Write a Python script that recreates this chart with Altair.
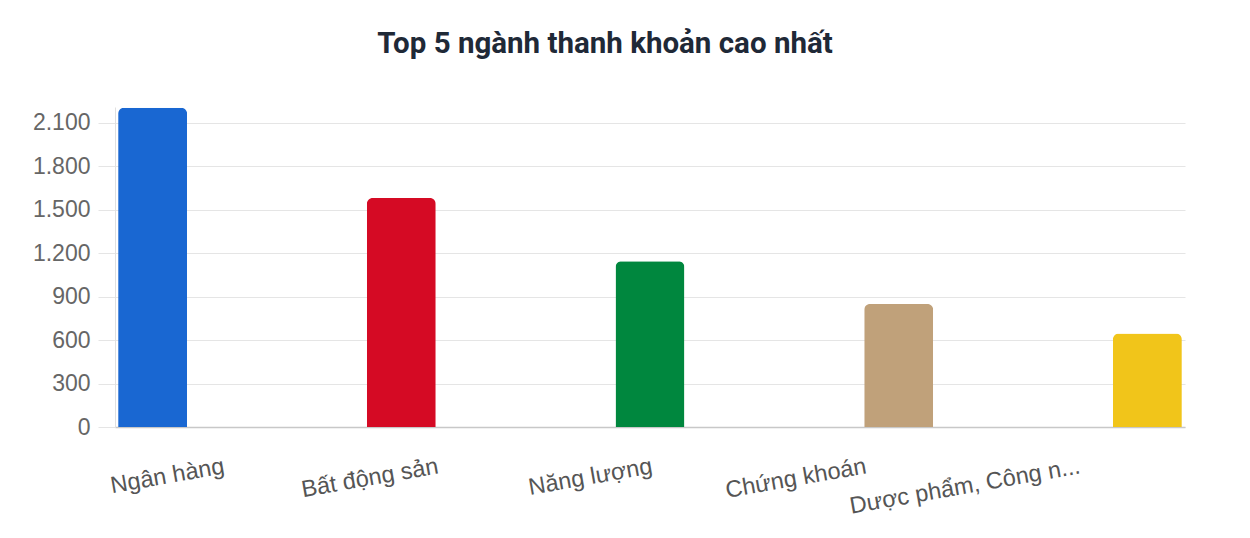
import altair as alt
import pandas as pd

categories = ["Ngân hàng", "Bất động sản", "Năng lượng", "Chứng khoán", "Dược phẩm, Công n..."]
values = [2205, 1581, 1145, 850, 646]
colors = ["#1967D2", "#D50A24", "#00873E", "#C0A17A", "#F1C51A"]
y_ticks = [0, 300, 600, 900, 1200, 1500, 1800, 2100]

df = pd.DataFrame({"nganh": categories, "value": values})

bars = alt.Chart(df).mark_bar(
    width=69, cornerRadiusTopLeft=6, cornerRadiusTopRight=6
).encode(
    x=alt.X("nganh:N", sort=categories,
            scale=alt.Scale(domain=categories, paddingInner=0, paddingOuter=0),
            axis=alt.Axis(title=None, labelAngle=-10, labelAlign="right", labelBaseline="top",
                          labelPadding=27, ticks=False, grid=False,
                          labelFont="Liberation Sans", labelFontSize=23.5, labelColor="#555555",
                          domainColor="#c8c8c8", domainWidth=1.5, labelLimit=400)),
    xOffset=alt.XOffset("nganh:N", sort=categories,
                        scale=alt.Scale(domain=categories, paddingInner=0, paddingOuter=0.584)),
    y=alt.Y("value:Q", scale=alt.Scale(domain=[0, 2210], nice=False),
            axis=alt.Axis(title=None, values=y_ticks, tickSize=17, tickColor="#e5e5e5",
                          gridColor="#e5e5e5", domainColor="#e0e0e0", labelPadding=8,
                          labelFont="Liberation Sans", labelFontSize=23, labelColor="#666666",
                          labelExpr="replace(format(datum.value, ',d'), ',', '.')")),
    color=alt.Color("nganh:N", scale=alt.Scale(domain=categories, range=colors), legend=None),
)

chart = bars.properties(
    width=1070,
    height=320,
    padding={"left": 107, "top": 99, "right": 50, "bottom": 110},
    autosize=alt.AutoSizeParams(type="none"),
    title=alt.TitleParams("Top 5 ngành thanh khoản cao nhất", font="Roboto", fontSize=29.5,
                          fontWeight="bold", color="#1f2937", anchor="middle", dx=-45,
                          offset=25, baseline="alphabetic"),
).configure(background="white").configure_view(strokeWidth=0, stroke="transparent")

chart.save("out.html", embed_options={"renderer": "svg", "actions": False})
